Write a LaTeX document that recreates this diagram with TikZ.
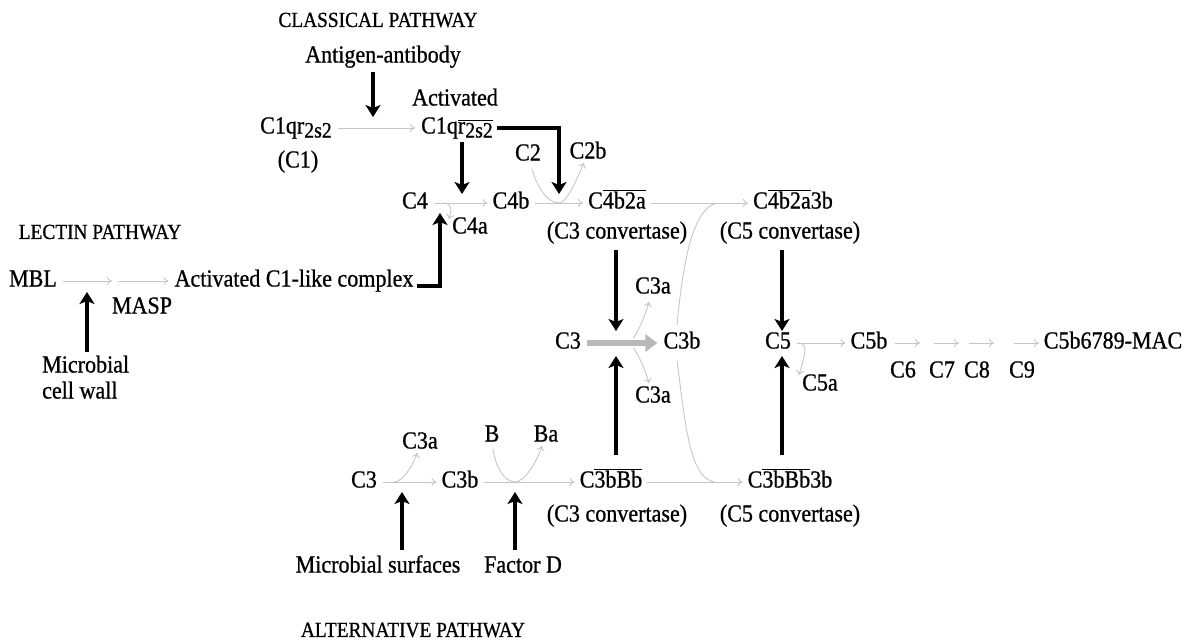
\documentclass[tikz,border=0pt]{standalone}
\usepackage{fontspec}
\setmainfont{Liberation Serif}[FakeStretch=0.9,FakeBold=0.8]
\usetikzlibrary{arrows.meta}
\newcommand\ovl[1]{$\overline{\mbox{#1}}$}
\newcommand\lowsub[1]{\raisebox{-4pt}{\fontsize{22}{24}\selectfont #1}}
\begin{document}
\begin{tikzpicture}[x=1pt,y=-1pt,
  lbl/.style={inner sep=0pt,text height=16pt,text depth=5pt,font=\fontsize{24.5}{26}\selectfont},
  head/.style={inner sep=0pt,font=\fontsize{21.5}{24}\selectfont},
  ga/.style={draw=gray!45,line width=0.9pt,-{To[length=5pt,width=8pt]}},
  gl/.style={draw=gray!45,line width=0.9pt},
  ba/.style={draw=black,line width=4.3pt,-{Stealth[length=12pt,width=15pt,inset=3pt]}},
  fat/.style={draw=gray!55,line width=6pt,-{Triangle[length=12pt,width=17pt]}},
]
\useasboundingbox (0,0) rectangle (1190,641);
% headings
\node[head] (hcl) at (378,20) {CLASSICAL PATHWAY};
\node[head] (hle) at (100,232) {LECTIN PATHWAY};
\node[head] (hal) at (413,630) {ALTERNATIVE PATHWAY};
% classical
\node[lbl] (ag) at (383,57) {Antigen-antibody};
\node[lbl] (act) at (455,100) {Activated};
\node[lbl] (c1l) at (296,128) {C1qr\lowsub{2s2}};
\node[lbl] (c1) at (298,162) {(C1)};
\node[lbl] (c1r) at (457,128) {C1q\ovl{r\lowsub{2s2}}};
\coordinate (j1) at (373,117);
\draw[ga] ([xshift=6pt]c1l.east) -- ([xshift=-6pt]c1r.west);
\draw[ba] ([yshift=-4pt]ag.south -| j1) -- (j1);
\node[lbl] (c4) at (415,203) {C4};
\node[lbl] (c4b) at (511,203) {C4b};
\node[lbl] (c4a) at (470,228) {C4a};
\coordinate (jc4) at (462,203);
\coordinate (jl) at (440,213);
\draw[ga] ([xshift=6pt]c4.east) -- ([xshift=-5pt]c4b.west);
\draw[ga] ([xshift=14pt]c4.east) .. controls +(12,0) and +(2,-8) .. ([xshift=-3pt,yshift=-2pt]c4a.north west);
\draw[ba] ([yshift=-3pt]c1r.south -| jc4) -- ([yshift=9pt]jc4);
\node[lbl] (c2) at (528,155) {C2};
\node[lbl] (c2b) at (588,153) {C2b};
\node[lbl] (c4b2a) at (617,203) {C\ovl{4b2a}};
\coordinate (jc2) at (559,203);
\draw[ga] ([xshift=5pt]c4b.east) -- ([xshift=-5pt]c4b2a.west);
\draw[ga] ([xshift=4pt,yshift=-3pt]c2.south) .. controls +(6,22) and +(-10,0) .. (jc2) .. controls +(8,0) and +(-6,14) .. ([xshift=-4pt,yshift=1pt]c2b.south);
\draw[ba] ([xshift=4pt]c1r.east) -| ([yshift=9pt]jc2);
\node[lbl] (c4b2a3b) at (793,203) {C\ovl{4b2a}3b};
\node[lbl] (cv1) at (617,233) {(C3 convertase)};
\node[lbl] (cv2) at (790,233) {(C5 convertase)};
\coordinate (ju) at (716,203);
\draw[ga] ([xshift=5pt]c4b2a.east) -- ([xshift=-5pt]c4b2a3b.west);
% lectin
\node[lbl] (mbl) at (33,281) {MBL};
\node[lbl] (actc) at (294,281) {Activated C1-like complex};
\node[lbl] (masp) at (142,308) {MASP};
\node[lbl,anchor=west] (mic1) at (42,367) {Microbial};
\node[lbl,anchor=west] (mic2) at (42,393) {cell wall};
\coordinate (mm) at (115,281);
\coordinate (jm) at (87,292);
\draw[ga] ([xshift=6pt]mbl.east) -- ([xshift=-3pt]mm);
\draw[ga] ([xshift=3pt]mm) -- ([xshift=-6pt]actc.west);
\draw[ba] ([yshift=4pt]mic1.north -| jm) -- (jm);
\draw[ba] ([xshift=3pt,yshift=-5pt]actc.east) -| (jl);
% C3 row
\node[lbl] (c3m) at (568,343) {C3};
\node[lbl] (c3bm) at (682,343) {C3b};
\node[lbl] (c3au) at (653,288) {C3a};
\node[lbl] (c3ad) at (653,397) {C3a};
\coordinate (jm3) at (616,343);
\draw[fat] ([xshift=6pt]c3m.east) -- ([xshift=-6pt]c3bm.west);
\draw[ga] ([xshift=17pt,yshift=5pt]jm3) .. controls +(6,-6) and +(-2,8) .. ([xshift=-4pt,yshift=-3pt]c3au.south);
\draw[ga] ([xshift=17pt,yshift=-5pt]jm3) .. controls +(6,6) and +(-2,-8) .. ([xshift=-4pt,yshift=3pt]c3ad.north);
\draw[ba] ([yshift=-6pt]cv1.south -| jm3) -- ([yshift=12pt]jm3);
% C5 row
\node[lbl] (c5) at (778,343) {C5};
\node[lbl] (c5b) at (869,343) {C5b};
\node[lbl] (c5a) at (820,385) {C5a};
\coordinate (j5) at (782,343);
\draw[ga] ([xshift=6pt]c5.east) -- ([xshift=-5pt]c5b.west);
\draw[ga] ([xshift=8pt]c5.east) .. controls +(12,0) and +(2,-10) .. ([xshift=-3pt,yshift=-1pt]c5a.north west);
\draw[ba] ([yshift=-6pt]cv2.south -| j5) -- ([yshift=12pt]j5);
\node[lbl] (c6) at (903,372) {C6};
\node[lbl] (c7) at (942,372) {C7};
\node[lbl] (c8) at (977,372) {C8};
\node[lbl] (c9) at (1022,372) {C9};
\node[lbl] (mac) at (1113,343) {C5b6789-MAC};
\foreach \n in {c6,c7,c8,c9}{\draw[ga] ([xshift=-8pt,yshift=29pt]\n.center) -- ++(25,0);}
% alternative
\node[lbl] (c3l) at (364,482) {C3};
\node[lbl] (c3bl) at (460,482) {C3b};
\node[lbl] (c3al) at (420,443) {C3a};
\node[lbl] (bb) at (492,436) {B};
\node[lbl] (ba) at (546,436) {Ba};
\node[lbl] (c3bbb) at (611,482) {C\ovl{3bBb}};
\node[lbl] (cv3) at (617,516) {(C3 convertase)};
\node[lbl] (c3bbb3b) at (790,482) {C\ovl{3bBb}3b};
\node[lbl] (cv4) at (790,516) {(C5 convertase)};
\node[lbl] (ms) at (378,567) {Microbial surfaces};
\node[lbl] (fd) at (523,567) {Factor D};
\coordinate (ja) at (402,482);
\coordinate (jb) at (515,482);
\coordinate (jl2) at (714,482);
\draw[ga] ([xshift=6pt]c3l.east) -- ([xshift=-5pt]c3bl.west);
\draw[ga] ([xshift=-8pt]ja) .. controls +(10,0) and +(-2,8) .. ([xshift=-3pt,yshift=1pt]c3al.south);
\draw[ga] ([xshift=5pt]c3bl.east) -- ([xshift=-5pt]c3bbb.west);
\draw[ga] ([xshift=1pt,yshift=-2pt]bb.south) .. controls +(3,20) and +(-10,0) .. (jb) .. controls +(10,0) and +(-4,14) .. ([xshift=-4pt,yshift=1pt]ba.south);
\draw[ba] ([yshift=6pt]ms.north -| ja) -- ([yshift=-10pt]ja);
\draw[ba] ([yshift=6pt]fd.north -| jb) -- ([yshift=-10pt]jb);
\draw[ga] ([xshift=5pt]c3bbb.east) -- ([xshift=-5pt]c3bbb3b.west);
\draw[ba] ([yshift=16pt]c3bbb.north -| jm3) -- ([yshift=-13pt]jm3);
\draw[ba] ([yshift=16pt]c3bbb3b.north -| j5) -- ([yshift=-13pt]j5);
% C3b curves to C5 convertases
\draw[gl] ([xshift=-5pt,yshift=7pt]c3bm.north) .. controls +(6,-65) and +(-23,7) .. (ju);
\draw[gl] ([xshift=-5pt,yshift=-7pt]c3bm.south) .. controls +(8,60) and +(-25,-5) .. (jl2);
\end{tikzpicture}
\end{document}
